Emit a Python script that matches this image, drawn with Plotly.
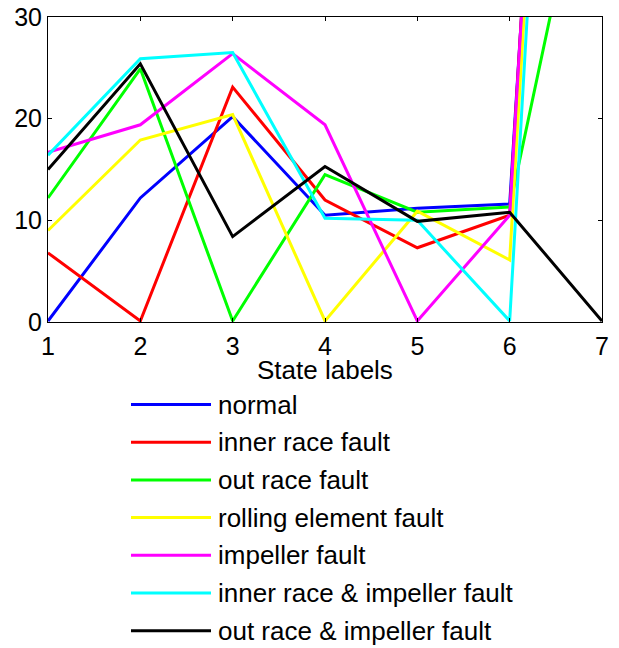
import plotly.graph_objects as go

states = [1, 2, 3, 4, 5, 6, 7]
names = ["normal", "inner race fault", "out race fault", "rolling element fault",
         "impeller fault", "inner race & impeller fault", "out race & impeller fault"]
colors = ["#0000ff", "#ff0000", "#00ff00", "#ffff00", "#ff00ff", "#00ffff", "#000000"]
x_title = "State labels"

normal = [0.1, 12.2, 20.2, 10.5, 11.2, 11.6, 156]
inner_race = [6.8, 0.1, 23.1, 12.0, 7.3, 10.5, 164]
out_race = [12.2, 24.9, 0.1, 14.5, 10.8, 11.3, 54]
rolling = [9.0, 17.9, 20.4, 0.1, 10.9, 6.1, 160]
impeller = [16.7, 19.4, 26.4, 19.4, 0.1, 10.5, 164]
inner_imp = [16.4, 25.9, 26.5, 10.2, 10.0, 0.1, 158]
out_imp = [15.0, 25.4, 8.4, 15.3, 9.9, 10.8, 0.1]

series = [normal, inner_race, out_race, rolling, impeller, inner_imp, out_imp]

FONT = "Liberation Sans, Arial, sans-serif"
FS = 26
fig = go.Figure()
for n, c, s in zip(names, colors, series):
    fig.add_trace(go.Scatter(x=states, y=s, mode="lines", name=n,
                             line=dict(color=c, width=3), showlegend=False))

# page body has an 8px margin; work in page pixels and subtract it
OFF = 8
PW, PH = 619, 648
W, H = PW - OFF, PH - OFF
L, T = 48 - OFF, 17 - OFF
R = PW - 602
B = PH - 322
pw, ph = W - L - R, H - T - B


def ypaper(py):
    return (PH - B - py) / ph


# x-axis title
fig.add_annotation(xref="paper", yref="paper", x=0.5, y=ypaper(370),
                   text=x_title, showarrow=False, xanchor="center", yanchor="middle",
                   font=dict(family=FONT, size=FS, color="black"))

# manual legend below the axes
row0, step = 404.5, 37.7
for i, (n, c) in enumerate(zip(names, colors)):
    yp = ypaper(row0 + i * step)
    fig.add_shape(type="line", xref="paper", yref="paper",
                  x0=(131 - 48) / pw, x1=(211 - 48) / pw, y0=yp, y1=yp,
                  line=dict(color=c, width=3))
    fig.add_annotation(xref="paper", yref="paper", x=(216 - 48) / pw, y=yp,
                       text=n, showarrow=False, xanchor="left", yanchor="middle",
                       font=dict(family=FONT, size=FS, color="black"))

fig.update_layout(
    width=W, height=H,
    margin=dict(l=L, r=R, t=T, b=B),
    plot_bgcolor="white", paper_bgcolor="white",
    font=dict(family=FONT, size=FS, color="black"),
    showlegend=False,
    xaxis=dict(range=[1, 7], tickvals=states, showgrid=False, zeroline=False,
               showline=True, linecolor="black", linewidth=1, mirror="ticks",
               ticks="inside", ticklen=4, tickcolor="black", automargin=False,
               tickfont=dict(size=25), ticklabelstandoff=2, ticklabeloverflow="allow"),
    yaxis=dict(range=[0, 30], tickvals=[0, 10, 20, 30], showgrid=False, zeroline=False,
               showline=True, linecolor="black", linewidth=1, mirror="ticks",
               ticks="inside", ticklen=4, tickcolor="black", automargin=False,
               tickfont=dict(size=25), ticklabelstandoff=0, ticklabeloverflow="allow"),
)
fig.write_html("out.html")
